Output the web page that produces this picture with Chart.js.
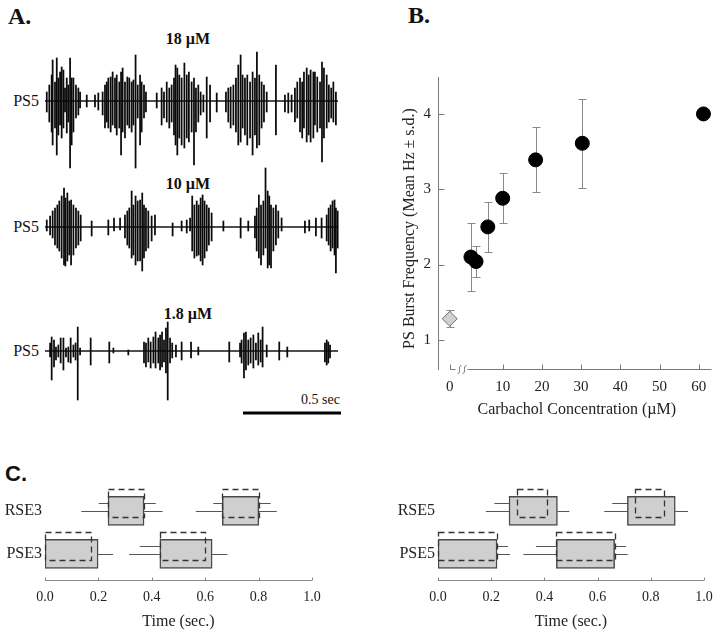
<!DOCTYPE html>
<html>
<head>
<meta charset="utf-8">
<script src="https://cdn.jsdelivr.net/npm/chart.js@4/dist/chart.umd.min.js"></script>
<style>
  html, body { margin: 0; padding: 0; background: #fff; }
  body { width: 720px; height: 634px; position: relative; overflow: hidden; font-family: "Liberation Serif", serif; color: #111; }
  canvas { position: absolute; }
  .lbl { position: absolute; white-space: nowrap; line-height: 1; }
  .mid { transform: translate(-50%, -50%); }
  .left { transform: translateY(-50%); }
  .right { transform: translate(-100%, -50%); }
</style>
</head>
<body>
<div class="lbl left" style="left:8px;top:16px;font:bold 24px 'Liberation Serif'">A.</div>
<div class="lbl left" style="left:408px;top:15px;font:bold 24px 'Liberation Serif'">B.</div>
<div class="lbl left" style="left:5px;top:474px;font:bold 22px 'Liberation Sans'">C.</div>

<div class="lbl mid" style="left:188px;top:39px;font:bold 16px 'Liberation Serif'">18 µM</div>
<div class="lbl mid" style="left:188px;top:184px;font:bold 16px 'Liberation Serif'">10 µM</div>
<div class="lbl mid" style="left:188px;top:314px;font:bold 16px 'Liberation Serif'">1.8 µM</div>
<div class="lbl right" style="left:39px;top:101px;font:16px 'Liberation Serif'">PS5</div>
<div class="lbl right" style="left:39px;top:227px;font:16px 'Liberation Serif'">PS5</div>
<div class="lbl right" style="left:39px;top:351px;font:16px 'Liberation Serif'">PS5</div>
<div class="lbl right" style="left:340px;top:400px;font:14px 'Liberation Serif'">0.5 sec</div>

<canvas id="trace18" width="296" height="125" style="left:45px;top:46px"></canvas>
<canvas id="trace10" width="296" height="112" style="left:45px;top:165px"></canvas>
<canvas id="trace18b" width="296" height="96" style="left:45px;top:319px"></canvas>
<canvas id="dose" width="360" height="390" style="left:360px;top:40px"></canvas>
<canvas id="tlE3" width="360" height="164" style="left:0px;top:470px"></canvas>
<canvas id="tlE5" width="360" height="164" style="left:360px;top:470px"></canvas>

<script>
// ---- A. field recordings: spikes as [time ms, up, down] (amplitude in a.u.) ----
const TRACE_SPAN = [0, 1495];
const SCALE_BAR = [1010, 1510]; // 0.5 sec
const SCALE_BAR_LEVEL = -62;

const spikes18 = [
  [9,9,11],[22,16,21],[34,26,31],[39,41,44],[51,19,27],[60,43,54],[68,23,34],[77,29,24],[85,34,37],[94,31,27],
  [102,13,11],[111,23,32],[119,16,21],[128,43,67],[136,23,44],[145,23,31],[158,16,17],[170,13,14],[179,9,7],
  [213,6,6],[255,6,6],[272,8,9],
  [294,9,14],[306,16,27],[315,19,21],[323,23,27],[335,24,31],[345,29,24],[357,23,27],[366,26,34],[379,19,27],
  [388,29,54],[396,33,31],[408,19,37],[420,24,24],[430,23,27],[442,19,31],[451,21,24],[462,46,67],[473,16,17],
  [485,26,44],[493,19,31],[505,16,17],[515,9,11],
  [570,8,7],
  [595,13,24],[607,9,17],[621,19,21],[634,13,27],[646,16,21],[658,23,34],[666,36,44],[675,33,54],[685,26,37],
  [697,23,44],[711,38,47],[723,26,37],[734,29,41],[748,19,31],[760,23,64],[770,13,31],[782,16,21],[794,9,14],
  [808,6,11],[825,24,37],[842,16,21],
  [876,8,11],
  [923,9,11],[935,13,21],[947,14,27],[961,16,24],[974,23,31],[986,36,44],[998,46,41],[1008,26,27],[1020,23,34],
  [1032,26,44],[1046,19,37],[1059,29,54],[1071,23,34],[1081,49,47],[1093,26,44],[1105,19,27],[1117,16,21],[1131,9,11],
  [1178,36,34],
  [1224,6,11],[1241,8,12],[1258,6,11],[1275,13,21],[1287,19,17],[1301,23,31],[1312,19,37],[1321,29,27],[1335,33,41],
  [1345,26,34],[1355,31,41],[1369,29,37],[1377,29,24],[1389,24,31],[1403,19,27],[1413,39,61],[1423,33,37],[1437,26,27],
  [1448,16,21],[1460,13,17],[1471,19,21],[1484,9,24]
];

const spikes10 = [
  [9,7,4],[26,11,8],[39,16,11],[51,19,18],[63,22,21],[73,26,24],[85,31,31],[97,39,38],[104,29,39],[114,34,34],
  [124,26,28],[133,27,38],[145,22,28],[158,19,21],[170,16,18],[182,12,14],
  [238,6,9],[323,7,8],[352,9,4],[383,9,3],
  [408,12,11],[420,16,18],[430,19,21],[442,36,31],[451,22,28],[462,31,38],[473,26,34],[485,27,34],[496,34,44],
  [505,22,31],[515,19,24],[527,16,21],[544,11,14],[561,12,8],
  [651,4,9],[697,6,4],[723,7,6],
  [740,9,4],[751,31,24],[762,22,31],[774,26,29],[784,22,28],[794,29,34],[804,32,38],[814,26,31],[825,22,24],
  [836,19,18],[850,14,14],
  [910,6,4],[998,9,11],[1037,6,4],
  [1071,11,11],[1080,19,24],[1091,32,31],[1102,22,38],[1114,26,28],[1125,59,21],[1136,36,41],[1144,31,38],
  [1153,22,41],[1165,19,24],[1178,22,18],[1190,16,11],[1207,9,4],
  [1326,6,6],[1348,7,4],[1382,9,9],[1411,9,11],
  [1437,12,14],[1447,19,18],[1457,22,24],[1467,26,21],[1477,27,28],[1484,19,46],[1493,16,21]
];

const spikes1p8 = [
  [26,8,6],[34,14,29],[46,11,16],[56,4,9],[68,6,6],[80,13,12],[94,13,19],[107,3,6],[119,4,11],[131,13,12],
  [145,6,6],[156,8,9],[167,24,49],[179,3,4],[233,13,14],[328,9,12],[349,3,2],[425,1,4],
  [505,9,12],[515,8,16],[527,13,11],[539,9,17],[553,14,12],[564,19,17],[578,13,12],[587,16,19],[597,19,16],
  [607,11,11],[617,23,22],[626,29,49],[638,13,12],[649,8,7],[668,6,6],[697,9,9],[745,9,7],[782,4,4],
  [940,9,11],[995,8,6],[1003,11,12],[1015,18,27],[1025,19,19],[1037,11,14],[1049,13,12],[1063,16,17],
  [1076,8,9],[1088,18,14],[1100,11,11],[1110,24,16],[1131,6,6],[1195,9,9],[1236,4,6],
  [1428,8,11],[1437,11,14],[1445,9,12],[1454,6,7]
];

// ---- B. dose response ----
const CONC = [1.9, 3.2, 6.2, 10, 18.4, 30.3, 61.2];          // µM
const FREQ_MEAN = [2.10, 2.04, 2.50, 2.88, 3.39, 3.61, 4.00]; // Hz
const FREQ_SD = [0.45, 0.20, 0.33, 0.33, 0.43, 0.59, 0.05];
const CONTROL_CONC = [0];
const CONTROL_MEAN = [1.28];
const CONTROL_SD = [0.11];
const CONC_TICKS = [0, 10, 20, 30, 40, 50, 60];
const FREQ_TICKS = [1, 2, 3, 4];
const ZERO_AT = -3.5; // 0 µM is drawn left of the axis break

// ---- C. burst timing (sec.) ----
const TIME_TICKS = [0, 0.2, 0.4, 0.6, 0.8, 1.0];
const ROWS_E3 = ['RSE3', 'PSE3'];
const ROWS_E5 = ['RSE5', 'PSE5'];
const BOX_ROW = [0, 0, 1, 1];

const E3_START = [0.236, 0.664, 0.0, 0.430];
const E3_END = [0.371, 0.801, 0.199, 0.626];
const E3_START_SD = [0.100, 0.099, 0, 0.115];
const E3_END_SD = [0.069, 0.067, 0.056, 0.057];
const E3_DASH_START = [0.236, 0.664, 0.0, 0.430];
const E3_DASH_END = [0.371, 0.801, 0.174, 0.601];
const E3_DASH_START_SD = [0.035, 0.034, 0, 0.075];
const E3_DASH_END_SD = [0.044, 0.044, 0.025, 0.025];

const E5_START = [0.267, 0.712, 0.0, 0.445];
const E5_END = [0.449, 0.892, 0.222, 0.664];
const E5_START_SD = [0.087, 0.087, 0, 0.124];
const E5_END_SD = [0.045, 0.048, 0.049, 0.049];
const E5_DASH_START = [0.297, 0.742, 0.0, 0.445];
const E5_DASH_END = [0.409, 0.851, 0.222, 0.667];
const E5_DASH_START_SD = [0.085, 0.087, 0, 0.077];
const E5_DASH_END_SD = [0.026, 0.027, 0.041, 0.040];

Chart.defaults.font.family = '"Liberation Serif", serif';
Chart.defaults.color = '#222';

const common = {
  responsive: false,
  animation: false,
  devicePixelRatio: 1,
  events: [],
  plugins: { legend: { display: false }, tooltip: { enabled: false } },
};

// A. traces
function drawTrace(id, spikes, yMin, yMax, withBar) {
  const datasets = [
    {
      type: 'line',
      data: TRACE_SPAN.map(t => ({ x: t, y: 0 })),
      borderColor: '#151515',
      borderWidth: 1.5,
      pointRadius: 0,
      order: 2,
    },
    {
      type: 'bar',
      data: spikes.map(([t, up, down]) => ({ x: t, y: [-down, up] })),
      backgroundColor: '#0a0a0a',
      barThickness: 1.1,
      order: 1,
    },
  ];
  if (withBar) {
    datasets.push({
      type: 'line',
      data: SCALE_BAR.map(t => ({ x: t, y: SCALE_BAR_LEVEL })),
      borderColor: '#000',
      borderWidth: 3,
      pointRadius: 0,
    });
  }
  return new Chart(document.getElementById(id), {
    type: 'bar',
    data: { datasets },
    options: {
      ...common,
      layout: { padding: 0 },
      scales: {
        x: { type: 'linear', display: false, min: 0, max: SCALE_BAR[1], offset: false },
        y: { type: 'linear', display: false, min: yMin, max: yMax },
      },
    },
  });
}

drawTrace('trace18', spikes18, -70, 55, false);
drawTrace('trace10', spikes10, -50, 62, false);
drawTrace('trace18b', spikes1p8, -64, 32, true);

// B. dose response
const errorBars = {
  id: 'errorBars',
  beforeDatasetsDraw(chart) {
    const { ctx, scales: { x, y } } = chart;
    ctx.save();
    ctx.strokeStyle = '#8a8a8a';
    ctx.lineWidth = 1;
    chart.data.datasets.forEach(ds => {
      ds.data.forEach((p, i) => {
        const px = Math.round(x.getPixelForValue(p.x)) + 0.5;
        const top = Math.round(y.getPixelForValue(p.y + ds.sd[i])) + 0.5;
        const bot = Math.round(y.getPixelForValue(p.y - ds.sd[i])) + 0.5;
        ctx.beginPath();
        ctx.moveTo(px, top); ctx.lineTo(px, bot);
        ctx.moveTo(px - 4, top); ctx.lineTo(px + 4, top);
        ctx.moveTo(px - 4, bot); ctx.lineTo(px + 4, bot);
        ctx.stroke();
      });
    });
    ctx.restore();
  },
};

const brokenAxes = {
  id: 'brokenAxes',
  afterDraw(chart) {
    const { ctx, chartArea: a, scales: { x, y } } = chart;
    ctx.save();
    ctx.strokeStyle = '#7a7a7a';
    ctx.lineWidth = 1;
    ctx.beginPath();
    const ax = Math.round(a.left) + 0.5;
    ctx.moveTo(ax, a.top); ctx.lineTo(ax, a.bottom);
    FREQ_TICKS.forEach(v => {
      const py = Math.round(y.getPixelForValue(v)) + 0.5;
      ctx.moveTo(ax, py); ctx.lineTo(ax + 6, py);
    });
    const by = Math.round(a.bottom) - 0.5;
    const x0 = Math.round(x.getPixelForValue(ZERO_AT)) + 0.5;
    ctx.moveTo(x0, by - 5); ctx.lineTo(x0, by); ctx.lineTo(x0 + 5, by);
    [x0 + 9, x0 + 14].forEach(sx => {
      ctx.moveTo(sx - 2, by + 4);
      ctx.bezierCurveTo(sx + 2, by + 4, sx - 2, by - 4, sx + 2, by - 4);
    });
    ctx.moveTo(x0 + 17, by); ctx.lineTo(a.right, by);
    CONC_TICKS.slice(1).forEach(v => {
      const px = Math.round(x.getPixelForValue(v)) + 0.5;
      ctx.moveTo(px, by); ctx.lineTo(px, by - 5);
    });
    ctx.stroke();

    ctx.fillStyle = '#222';
    ctx.font = '15px "Liberation Serif"';
    ctx.textBaseline = 'middle';
    ctx.textAlign = 'right';
    FREQ_TICKS.forEach(v => ctx.fillText(String(v), a.left - 7, y.getPixelForValue(v)));
    ctx.textAlign = 'center';
    CONC_TICKS.forEach(v => ctx.fillText(String(v), x.getPixelForValue(v === 0 ? ZERO_AT : v), a.bottom + 17));
    ctx.font = '16px "Liberation Serif"';
    ctx.fillText('Carbachol Concentration (µM)', (a.left + a.right) / 2 + 2, a.bottom + 40);
    ctx.translate(50, (a.top + a.bottom) / 2 + 5);
    ctx.rotate(-Math.PI / 2);
    ctx.fillText('PS Burst Frequency (Mean Hz ± s.d.)', 0, 0);
    ctx.restore();
  },
};

new Chart(document.getElementById('dose'), {
  type: 'scatter',
  data: {
    datasets: [
      {
        data: CONC.map((c, i) => ({ x: c, y: FREQ_MEAN[i] })),
        sd: FREQ_SD,
        pointStyle: 'circle',
        pointRadius: 7,
        borderWidth: 1,
        backgroundColor: '#000',
        borderColor: '#000',
        clip: false,
      },
      {
        data: CONTROL_CONC.map((c, i) => ({ x: c === 0 ? ZERO_AT : c, y: CONTROL_MEAN[i] })),
        sd: CONTROL_SD,
        pointStyle: 'rectRot',
        pointRadius: 7.5,
        backgroundColor: '#d0d0d0',
        borderColor: '#707070',
        borderWidth: 1,
        clip: false,
      },
    ],
  },
  options: {
    ...common,
    layout: { padding: { left: 78, right: 3, top: 37, bottom: 60 } },
    scales: {
      x: { type: 'linear', display: false, min: -6.5, max: 63.25 },
      y: { type: 'linear', display: false, min: 0.6, max: 4.49 },
    },
  },
  plugins: [errorBars, brokenAxes],
});

// C. burst timing
const timeline = {
  id: 'timeline',
  beforeDatasetsDraw(chart, args, opts) {
    const { ctx, scales: { x, y } } = chart;
    const t = opts.timing;
    ctx.save();
    ctx.strokeStyle = '#555';
    ctx.lineWidth = 1.2;
    ctx.beginPath();
    BOX_ROW.forEach((r, i) => {
      const yc = Math.round(y.getPixelForValue(r)) + 0.5;
      const yd = yc - 8;
      if (t.startSd[i] > 0) {
        ctx.moveTo(x.getPixelForValue(t.start[i] - t.startSd[i]), yc); ctx.lineTo(x.getPixelForValue(t.start[i]), yc);
      }
      ctx.moveTo(x.getPixelForValue(t.end[i]), yc); ctx.lineTo(x.getPixelForValue(t.end[i] + t.endSd[i]), yc);
      if (t.dashStartSd[i] > 0) {
        ctx.moveTo(x.getPixelForValue(t.dashStart[i] - t.dashStartSd[i]), yd); ctx.lineTo(x.getPixelForValue(t.dashStart[i]), yd);
      }
      ctx.moveTo(x.getPixelForValue(t.dashEnd[i]), yd); ctx.lineTo(x.getPixelForValue(t.dashEnd[i] + t.dashEndSd[i]), yd);
    });
    ctx.stroke();
    ctx.restore();
  },
  afterDatasetsDraw(chart, args, opts) {
    const { ctx, scales: { x, y } } = chart;
    const t = opts.timing;
    ctx.save();
    ctx.strokeStyle = '#333';
    ctx.lineWidth = 1.3;
    ctx.setLineDash([6, 4]);
    BOX_ROW.forEach((r, i) => {
      const yc = y.getPixelForValue(r) - 7.5;
      const x1 = Math.round(x.getPixelForValue(t.dashStart[i])) + 0.5;
      const x2 = Math.round(x.getPixelForValue(t.dashEnd[i])) + 0.5;
      ctx.strokeRect(x1, Math.round(yc - 14) + 0.5, x2 - x1, 28);
    });
    ctx.restore();
  },
  afterDraw(chart, args, opts) {
    const { ctx, chartArea: a, scales: { x, y } } = chart;
    ctx.save();
    ctx.strokeStyle = '#8a8a8a';
    ctx.lineWidth = 1;
    const by = Math.round(a.bottom) - 0.5;
    ctx.beginPath();
    ctx.moveTo(x.getPixelForValue(0), by); ctx.lineTo(x.getPixelForValue(1), by);
    TIME_TICKS.forEach(v => {
      const px = Math.round(x.getPixelForValue(v)) + 0.5;
      ctx.moveTo(px, by); ctx.lineTo(px, by - 3);
    });
    ctx.stroke();
    ctx.fillStyle = '#222';
    ctx.textBaseline = 'middle';
    ctx.textAlign = 'center';
    ctx.font = '14px "Liberation Serif"';
    TIME_TICKS.forEach(v => ctx.fillText(v.toFixed(1), x.getPixelForValue(v), a.bottom + 16));
    ctx.font = '16px "Liberation Serif"';
    ctx.fillText('Time (sec.)', (x.getPixelForValue(0) + x.getPixelForValue(1)) / 2, a.bottom + 41);
    ctx.textAlign = 'right';
    opts.rows.forEach((name, r) => ctx.fillText(name, x.getPixelForValue(0) - 3, y.getPixelForValue(r)));
    ctx.restore();
  },
};

function drawTimeline(id, rows, timing, padLeft, padRight) {
  return new Chart(document.getElementById(id), {
    type: 'bar',
    data: {
      datasets: [{
        data: timing.start.map((s, i) => ({ y: BOX_ROW[i], x: [s, timing.end[i]] })),
        backgroundColor: '#cfcfcf',
        borderColor: '#4a4a4a',
        borderWidth: 1.5,
        borderSkipped: false,
        barThickness: 29,
      }],
    },
    options: {
      ...common,
      indexAxis: 'y',
      layout: { padding: { left: padLeft, right: padRight, top: 15, bottom: 53 } },
      scales: {
        x: { type: 'linear', display: false, min: 0, max: 1, offset: false },
        y: { type: 'linear', display: false, min: -0.6, max: 1.63, reverse: true, offset: false },
      },
      plugins: { ...common.plugins, timeline: { rows, timing } },
    },
    plugins: [timeline],
  });
}

drawTimeline('tlE3', ROWS_E3, {
  start: E3_START, end: E3_END, startSd: E3_START_SD, endSd: E3_END_SD,
  dashStart: E3_DASH_START, dashEnd: E3_DASH_END, dashStartSd: E3_DASH_START_SD, dashEndSd: E3_DASH_END_SD,
}, 45, 48);

drawTimeline('tlE5', ROWS_E5, {
  start: E5_START, end: E5_END, startSd: E5_START_SD, endSd: E5_END_SD,
  dashStart: E5_DASH_START, dashEnd: E5_DASH_END, dashStartSd: E5_DASH_START_SD, dashEndSd: E5_DASH_END_SD,
}, 78, 16);
</script>
</body>
</html>
